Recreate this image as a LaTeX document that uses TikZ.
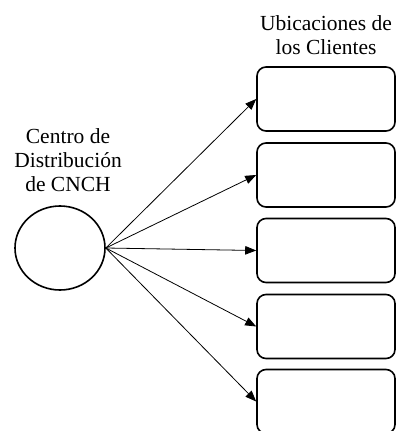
\documentclass[tikz,border=0pt]{standalone}
\usepackage{fontspec}
\setmainfont{Liberation Serif}
\usetikzlibrary{arrows.meta,shapes.geometric}
\begin{document}
\begin{tikzpicture}[x=1pt,y=-1pt,
  client/.style={draw, line width=1.6pt, rounded corners=9pt, minimum width=138pt, minimum height=64pt, inner sep=0pt},
  hub/.style={draw, ellipse, line width=1.6pt, minimum width=90pt, minimum height=84pt, inner sep=0pt},
  lbl/.style={align=center, font=\fontsize{21.5}{24}\selectfont, inner sep=0pt},
  link/.style={line width=0.8pt, -{Triangle[length=11pt,width=8.5pt]}}]
\clip (0,0) rectangle (397,431);
\node[hub] (dc) at (60,248) {};
\node[client] (c1) at (326,99) {};
\node[client] (c2) at (326,175) {};
\node[client] (c3) at (326,250.5) {};
\node[client] (c4) at (326,326.5) {};
\node[client] (c5) at (326,401.5) {};
\node[lbl] (dctext) at (68,160) {Centro de\\Distribución\\de CNCH};
\node[lbl] (cltext) at (326,35) {Ubicaciones de\\los Clientes};
\foreach \c in {c1,c2,c3,c4,c5} \draw[link] (dc.east) -- (\c.west);
\end{tikzpicture}
\end{document}
